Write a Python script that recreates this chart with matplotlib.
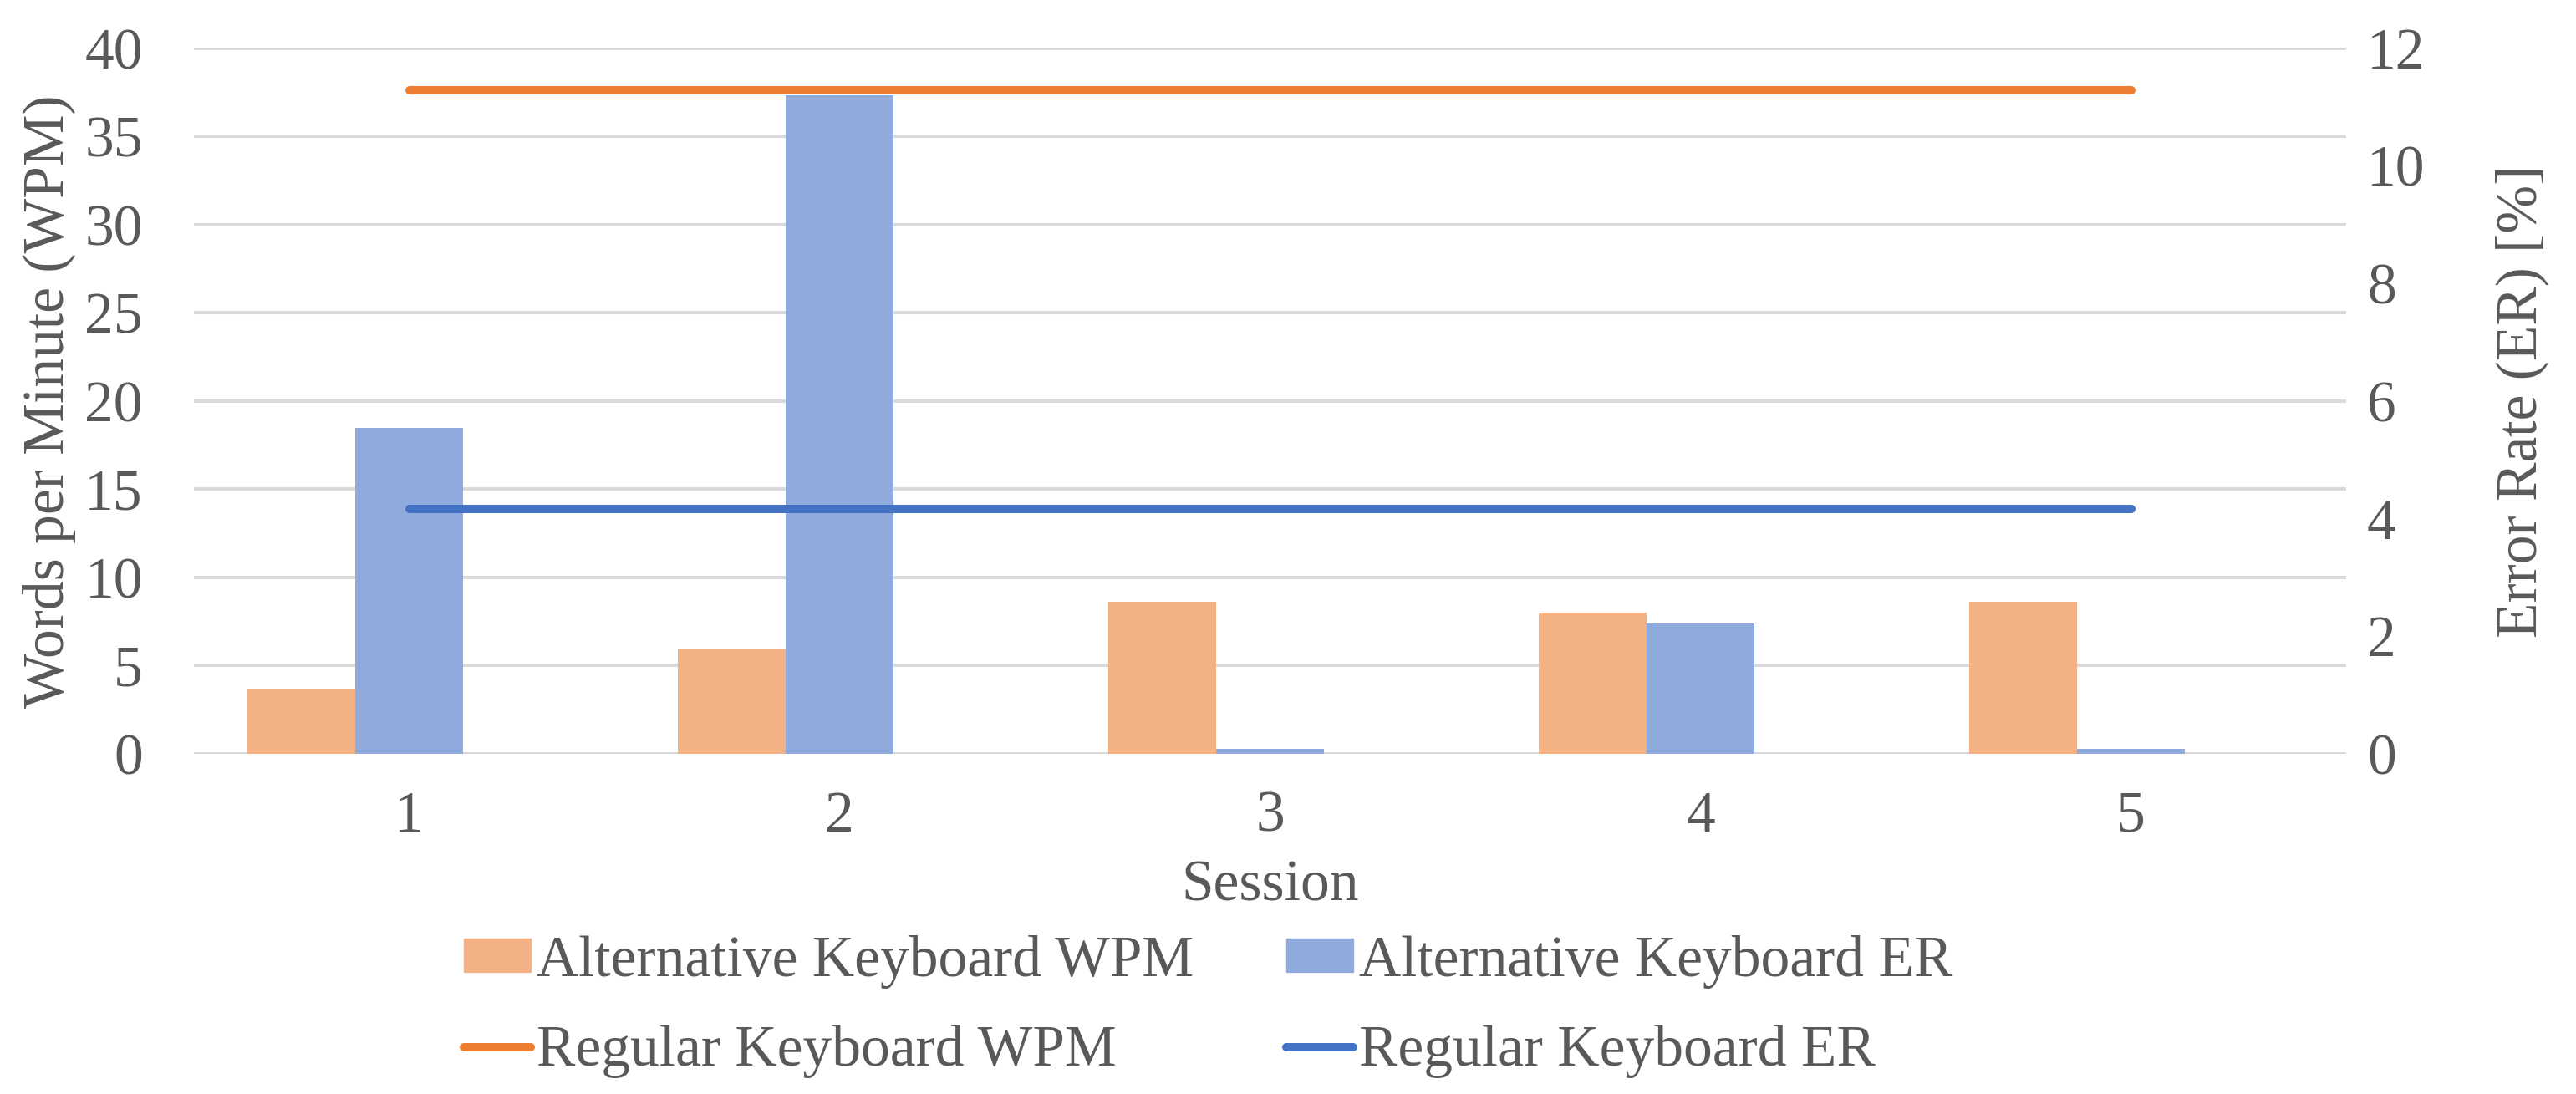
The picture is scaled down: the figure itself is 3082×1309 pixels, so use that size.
import matplotlib.pyplot as plt
from matplotlib.patches import Patch
from matplotlib.lines import Line2D
import numpy as np

plt.rcParams['font.family'] = ['Liberation Serif', 'DejaVu Serif']

sessions = [1, 2, 3, 4, 5]
alt_wpm = [3.68, 5.95, 8.6, 7.99, 8.6]
alt_er = [5.54, 11.21, 0.08, 2.21, 0.08]
reg_wpm = [37.65, 37.65, 37.65, 37.65, 37.65]
reg_er = [4.17, 4.17, 4.17, 4.17, 4.17]
wpm_ticks = [0, 5, 10, 15, 20, 25, 30, 35, 40]
er_ticks = [0, 2, 4, 6, 8, 10, 12]

c_bar_wpm = '#F4B183'
c_bar_er = '#8FAADC'
c_line_wpm = '#ED7D31'
c_line_er = '#4472C4'
txt = '#595959'
grid_c = '#D9D9D9'
fs = 50

fig = plt.figure(figsize=(30.82, 13.09), dpi=100)
ax2 = fig.add_axes([0.0753, 0.311, 0.8355, 0.6447])
ax = ax2.twinx()
# WPM axis drawn on top, left side
ax.yaxis.tick_left()
ax.yaxis.set_label_position('left')
ax2.yaxis.tick_right()
ax2.yaxis.set_label_position('right')
ax.set_zorder(ax2.get_zorder() + 1)
ax.patch.set_visible(False)

x = np.array(sessions)
w = 0.25
ax.bar(x - w, alt_wpm, width=w, color=c_bar_wpm, zorder=2)
ax2.bar(x, alt_er, width=w, color=c_bar_er, zorder=2)
ax.plot(x, reg_wpm, color=c_line_wpm, lw=7.2, solid_capstyle='round', zorder=3)
ax2.plot(x, reg_er, color=c_line_er, lw=7.2, solid_capstyle='round', zorder=3)

ax.set_ylim(0, 40)
ax2.set_ylim(0, 12)
ax.set_xlim(0.5, 5.5)
ax.set_yticks(wpm_ticks)
ax2.set_yticks(er_ticks)
ax2.set_xticks(sessions)

# gridlines at the WPM ticks, drawn on the lower axis (under the bars)
ax2.yaxis.remove_overlapping_locs = False
ax2.set_yticks(np.array(wpm_ticks) * 12 / 40, minor=True)
ax2.yaxis.grid(True, which='minor', color=grid_c, lw=2.9, zorder=0)
ax2.set_axisbelow(True)
ax2.tick_params(axis='y', which='minor', length=0)

for a in (ax, ax2):
    for s in a.spines.values():
        s.set_visible(False)
ax.tick_params(axis='y', length=0, labelsize=fs, labelcolor=txt, pad=44)
ax.tick_params(axis='x', length=0, labelbottom=False)
ax2.tick_params(axis='y', which='major', length=0, labelsize=fs, labelcolor=txt, pad=18)
ax2.tick_params(axis='x', length=0, labelsize=fs, labelcolor=txt, pad=32)

ax.set_ylabel('Words per Minute (WPM)', fontsize=fs, color=txt, va='center')
ax.yaxis.set_label_coords(-0.0672, 0.5)
ax2.set_ylabel('Error Rate (ER) [%]', fontsize=fs, color=txt, va='center')
ax2.yaxis.set_label_coords(1.0816, 0.5)
ax2.set_xlabel('Session', fontsize=fs, color=txt)
ax2.xaxis.set_label_coords(0.5, -0.188)
ax2.xaxis.label.set_va('center')

handles = [
    Patch(color=c_bar_wpm),
    Line2D([], [], color=c_line_wpm, lw=7.2, solid_capstyle='round'),
    Patch(color=c_bar_er),
    Line2D([], [], color=c_line_er, lw=7.2, solid_capstyle='round'),
]
labels = ['Alternative Keyboard WPM', 'Regular Keyboard WPM',
          'Alternative Keyboard ER', 'Regular Keyboard ER']
leg = fig.legend(handles, labels, ncol=2, loc='center left',
                 bbox_to_anchor=(0.18, 0.08), frameon=False, fontsize=fs,
                 handlelength=1.15, handleheight=0.5, handletextpad=0.1,
                 columnspacing=1.6, labelspacing=0.62, borderpad=0, borderaxespad=0)
for t in leg.get_texts():
    t.set_color(txt)

fig.savefig('out.png', dpi=100)
